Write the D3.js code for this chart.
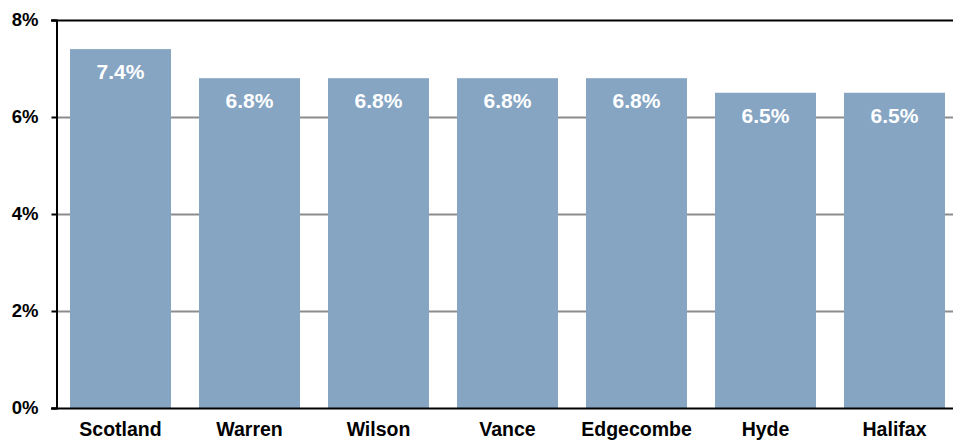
<!DOCTYPE html>
<html><head><meta charset="utf-8">
<script src="https://cdn.jsdelivr.net/npm/d3@7"></script>
<style>body{margin:0;background:#fff;} svg{display:block;font-family:"Liberation Sans",Arial,sans-serif;}</style>
</head><body>
<svg id="c" width="953" height="441"></svg>
<script>
const categories = ["Scotland","Warren","Wilson","Vance","Edgecombe","Hyde","Halifax"];
const values = [7.4, 6.8, 6.8, 6.8, 6.8, 6.5, 6.5];
const yTicks = [0, 2, 4, 6, 8];

const svg = d3.select("#c");
const x0 = 56, yTop = 20, yBot = 408;
const x = d3.scaleBand().domain(categories).range([x0, x0 + 7*129]).paddingInner(0.217).paddingOuter(0.1085);
const y = d3.scaleLinear().domain([0, 8]).range([yBot, yTop]);

// gridlines
svg.append("g").selectAll("line").data(yTicks.filter(t => t > 0 && t < 8)).join("line")
  .attr("x1", x0).attr("x2", 953).attr("y1", d => Math.round(y(d)) + 0.5).attr("y2", d => Math.round(y(d)) + 0.5)
  .attr("stroke", "#8c8c8c").attr("stroke-width", 2);

// bars
svg.append("g").selectAll("rect").data(categories).join("rect")
  .attr("x", d => x(d)).attr("width", x.bandwidth())
  .attr("y", (d,i) => y(values[i])).attr("height", (d,i) => yBot - y(values[i]))
  .attr("fill", "#85a5c3");

// value labels
svg.append("g").selectAll("text").data(categories).join("text")
  .attr("x", d => x(d) + x.bandwidth()/2).attr("y", (d,i) => y(values[i]) + 30)
  .attr("text-anchor", "middle").attr("fill", "#fff").attr("font-weight", "bold").attr("font-size", "21px")
  .text((d,i) => values[i].toFixed(1) + "%");

// top border
svg.append("line").attr("x1", x0 - 5).attr("x2", 953).attr("y1", yTop + 0.5).attr("y2", yTop + 0.5)
  .attr("stroke", "#000").attr("stroke-width", 2);

// y axis
const yAxis = d3.axisLeft(y).tickValues(yTicks).tickFormat(d => d + "%").tickSize(5).tickPadding(13);
const ga = svg.append("g").attr("transform", `translate(${x0 + 0.5},0)`).call(yAxis);
ga.select(".domain").attr("stroke", "#000").attr("stroke-width", 2);
ga.selectAll(".tick line").attr("stroke", "#000").attr("stroke-width", 2);
ga.selectAll(".tick text").attr("font-size", "18.5px").attr("font-weight", "bold").attr("fill", "#000")
  .attr("font-family", "Liberation Sans, Arial, sans-serif");

// x axis
const xAxis = d3.axisBottom(x).tickSize(0).tickPadding(14);
const gx = svg.append("g").attr("transform", `translate(0,${yBot + 0.5})`).call(xAxis);
gx.select(".domain").remove();
gx.append("line").attr("x1", x0 - 5).attr("x2", 953).attr("stroke", "#000").attr("stroke-width", 2);
gx.selectAll(".tick text").attr("font-size", "19.5px").attr("font-weight", "bold").attr("fill", "#000")
  .attr("font-family", "Liberation Sans, Arial, sans-serif");
</script>
</body></html>
